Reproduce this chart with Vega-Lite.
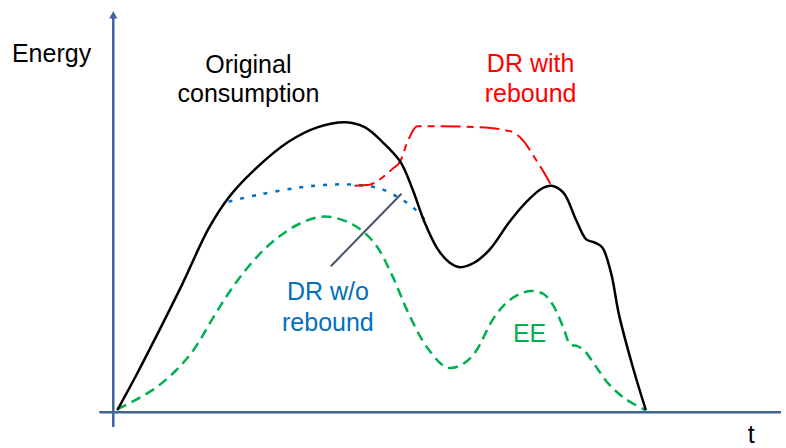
{
  "$schema": "https://vega.github.io/schema/vega-lite/v6.json",
  "width": 786,
  "height": 448,
  "autosize": {"type": "fit", "contains": "padding"},
  "padding": 0,
  "background": "white",
  "config": {"view": {"stroke": null}},
  "datasets": {
    "axes": [
      {"axis": "y", "t": -1, "e": -15},
      {"axis": "y", "t": -1, "e": 400},
      {"axis": "x", "t": -15, "e": 0},
      {"axis": "x", "t": 671, "e": 0}
    ],
    "arrow": [{"t": -1, "e": 400}],
    "original": [
      {"t": 3, "e": 2}, {"t": 22, "e": 37}, {"t": 38, "e": 68}, {"t": 68, "e": 128},
      {"t": 95, "e": 185}, {"t": 115, "e": 216}, {"t": 140, "e": 243},
      {"t": 175, "e": 272}, {"t": 205, "e": 287}, {"t": 233, "e": 292}, {"t": 252, "e": 287},
      {"t": 270, "e": 272}, {"t": 288, "e": 252}, {"t": 300, "e": 225}, {"t": 312, "e": 192},
      {"t": 325, "e": 165}, {"t": 337, "e": 151}, {"t": 348, "e": 146}, {"t": 363, "e": 151},
      {"t": 378, "e": 164}, {"t": 398, "e": 192}, {"t": 415, "e": 212}, {"t": 430, "e": 225},
      {"t": 440, "e": 228}, {"t": 452, "e": 221}, {"t": 465, "e": 193}, {"t": 475, "e": 174},
      {"t": 483, "e": 171}, {"t": 491, "e": 166}, {"t": 500, "e": 140}, {"t": 508, "e": 98},
      {"t": 522, "e": 45}, {"t": 535, "e": 2}
    ],
    "drNoRebound": [
      {"t": 115, "e": 212}, {"t": 145, "e": 219}, {"t": 185, "e": 226}, {"t": 215, "e": 229},
      {"t": 242, "e": 229}, {"t": 268, "e": 225}, {"t": 288, "e": 215}, {"t": 302, "e": 205},
      {"t": 313, "e": 193}
    ],
    "drRebound": [
      {"t": 242, "e": 228}, {"t": 257, "e": 229}, {"t": 268, "e": 235}, {"t": 280, "e": 245},
      {"t": 288, "e": 253}, {"t": 295, "e": 272}, {"t": 305, "e": 288}, {"t": 325, "e": 288},
      {"t": 365, "e": 287}, {"t": 398, "e": 283}, {"t": 412, "e": 273}, {"t": 422, "e": 258},
      {"t": 432, "e": 242}, {"t": 440, "e": 228}
    ],
    "ee": [
      {"t": 3, "e": 3}, {"t": 38, "e": 22}, {"t": 62, "e": 42},
      {"t": 80, "e": 63}, {"t": 100, "e": 96}, {"t": 120, "e": 127}, {"t": 145, "e": 158},
      {"t": 165, "e": 176}, {"t": 187, "e": 190}, {"t": 212, "e": 197}, {"t": 240, "e": 189},
      {"t": 262, "e": 170}, {"t": 280, "e": 137}, {"t": 295, "e": 102}, {"t": 315, "e": 65},
      {"t": 335, "e": 45}, {"t": 350, "e": 48}, {"t": 363, "e": 60}, {"t": 382, "e": 95},
      {"t": 398, "e": 113}, {"t": 418, "e": 122}, {"t": 432, "e": 119}, {"t": 442, "e": 107},
      {"t": 452, "e": 85}, {"t": 459, "e": 68}, {"t": 465, "e": 67}, {"t": 473, "e": 62},
      {"t": 484, "e": 47}, {"t": 498, "e": 28}, {"t": 515, "e": 13}, {"t": 535, "e": 2}
    ],
    "pointer": [{"t": 218, "e": 147}, {"t": 289, "e": 220}],
    "labels": [
      {"label": "Energy", "t": -103, "e": 353, "color": "black", "align": "left"},
      {"label": "Original", "t": 135, "e": 342, "color": "black", "align": "center"},
      {"label": "consumption", "t": 135, "e": 312, "color": "black", "align": "center"},
      {"label": "DR with", "t": 419, "e": 343, "color": "red", "align": "center"},
      {"label": "rebound", "t": 419, "e": 312, "color": "red", "align": "center"},
      {"label": "DR w/o", "t": 215, "e": 113, "color": "blue", "align": "center"},
      {"label": "rebound", "t": 215, "e": 82, "color": "blue", "align": "center"},
      {"label": "EE", "t": 418, "e": 71, "color": "green", "align": "center"},
      {"label": "t", "t": 641, "e": -31, "color": "black", "align": "center"}
    ]
  },
  "layer": [
    {
      "data": {"name": "axes"},
      "mark": {"type": "line", "color": "#3e6498", "strokeWidth": 2.5},
      "encoding": {
        "x": {"field": "t", "type": "quantitative", "scale": {"domain": [-115, 671], "nice": false, "zero": false}, "axis": null},
        "y": {"field": "e", "type": "quantitative", "scale": {"domain": [-33, 415], "nice": false, "zero": false}, "axis": null},
        "detail": {"field": "axis"}
      }
    },
    {
      "data": {"name": "arrow"},
      "mark": {"type": "point", "shape": "triangle-up", "filled": true, "color": "#3e6498", "size": 70, "opacity": 1},
      "encoding": {
        "x": {"field": "t", "type": "quantitative"},
        "y": {"field": "e", "type": "quantitative"}
      }
    },
    {
      "data": {"name": "ee"},
      "mark": {"type": "line", "color": "#00b050", "strokeWidth": 2.5, "strokeDash": [10, 6], "interpolate": "catmull-rom"},
      "encoding": {
        "x": {"field": "t", "type": "quantitative"},
        "y": {"field": "e", "type": "quantitative"}
      }
    },
    {
      "data": {"name": "drNoRebound"},
      "mark": {"type": "line", "color": "#0070c0", "strokeWidth": 2.5, "strokeDash": [4, 8], "interpolate": "catmull-rom"},
      "encoding": {
        "x": {"field": "t", "type": "quantitative"},
        "y": {"field": "e", "type": "quantitative"}
      }
    },
    {
      "data": {"name": "drRebound"},
      "mark": {"type": "line", "color": "#ff0000", "strokeWidth": 2, "strokeDash": [20, 6, 7, 6], "interpolate": "monotone"},
      "encoding": {
        "x": {"field": "t", "type": "quantitative"},
        "y": {"field": "e", "type": "quantitative"}
      }
    },
    {
      "data": {"name": "original"},
      "mark": {"type": "line", "color": "black", "strokeWidth": 2.5, "interpolate": "catmull-rom"},
      "encoding": {
        "x": {"field": "t", "type": "quantitative"},
        "y": {"field": "e", "type": "quantitative"}
      }
    },
    {
      "data": {"name": "pointer"},
      "mark": {"type": "line", "color": "#44546a", "strokeWidth": 2},
      "encoding": {
        "x": {"field": "t", "type": "quantitative"},
        "y": {"field": "e", "type": "quantitative"}
      }
    },
    {
      "data": {"name": "labels"},
      "transform": [{"filter": "datum.align == 'center'"}],
      "mark": {"type": "text", "font": "Liberation Sans", "fontSize": 25, "baseline": "alphabetic", "align": "center"},
      "encoding": {
        "x": {"field": "t", "type": "quantitative"},
        "y": {"field": "e", "type": "quantitative"},
        "text": {"field": "label"},
        "color": {"field": "color", "type": "nominal", "scale": {"domain": ["black", "red", "blue", "green"], "range": ["#000000", "#ff0000", "#0070c0", "#00b050"]}, "legend": null}
      }
    },
    {
      "data": {"name": "labels"},
      "transform": [{"filter": "datum.align == 'left'"}],
      "mark": {"type": "text", "font": "Liberation Sans", "fontSize": 25, "baseline": "alphabetic", "align": "left"},
      "encoding": {
        "x": {"field": "t", "type": "quantitative"},
        "y": {"field": "e", "type": "quantitative"},
        "text": {"field": "label"},
        "color": {"field": "color", "type": "nominal", "legend": null}
      }
    }
  ]
}
